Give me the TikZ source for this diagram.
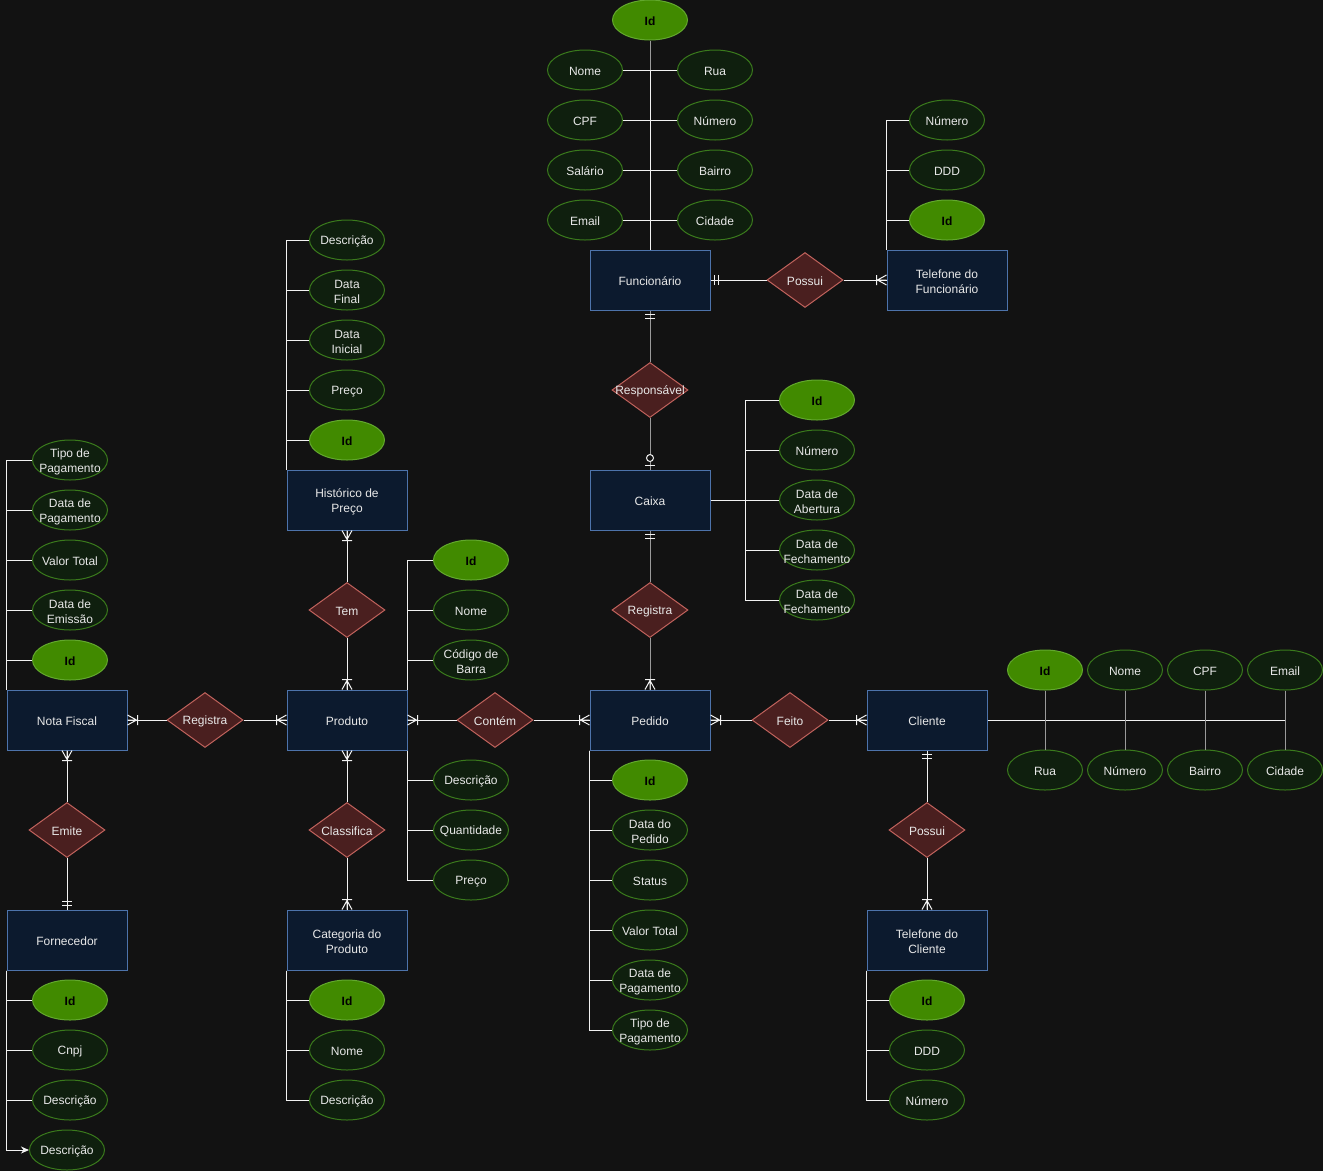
\documentclass[tikz,border=0pt]{standalone}
\usepackage{fontspec}
\setmainfont{Liberation Sans}
\usetikzlibrary{shapes.geometric,arrows.meta}
\definecolor{bg}{HTML}{121212}
\definecolor{entfill}{HTML}{0C1A2E}
\definecolor{entstroke}{HTML}{4D73AB}
\definecolor{attrfill}{HTML}{0F1F0E}
\definecolor{attrstroke}{HTML}{3A7A1C}
\definecolor{idfill}{HTML}{418A00}
\definecolor{idstroke}{HTML}{62A82D}
\definecolor{relfill}{HTML}{4A1F1F}
\definecolor{relstroke}{HTML}{C0625C}
\definecolor{txt}{HTML}{E8E8E8}
\definecolor{ln}{HTML}{F2F2F2}
\definecolor{lngray}{HTML}{9A9A9A}
\tikzset{
  fnt/.style={font=\fontsize{12}{15}\selectfont},
  lab/.style={fnt,text=txt,align=center,inner sep=0pt,yshift=-1.5pt},
  ent/.style={draw=entstroke,fill=entfill,line width=1pt,minimum width=120pt,minimum height=60pt,inner sep=0pt,label={[lab]center:#1}},
  attr/.style={ellipse,draw=attrstroke,fill=attrfill,line width=1pt,minimum width=75pt,minimum height=40pt,inner sep=0pt,label={[lab]center:#1}},
  idattr/.style={ellipse,draw=idstroke,fill=idfill,line width=1pt,minimum width=75pt,minimum height=40pt,inner sep=0pt,label={[lab,text=black,font=\bfseries\fontsize{12}{15}\selectfont]center:Id}},
  rel/.style={diamond,draw=relstroke,fill=relfill,line width=1pt,minimum width=76pt,minimum height=55pt,inner sep=0pt,label={[lab]center:#1}},
  lnw/.style={draw=ln,line width=1pt},
  lng/.style={draw=lngray,line width=1pt},
  mk/.style={draw=ln,line width=1pt},
  pics/mone/.style={code={\draw[mk] (4,-5)--(4,5) (8,-5)--(8,5);}},
  pics/omany/.style={code={\draw[mk] (0,-5)--(9,0) (0,0)--(9,0) (0,5)--(9,0) (10,-5)--(10,5);}},
  pics/zone/.style={code={\draw[mk] (4,-5)--(4,5); \draw[mk,fill=bg] (11.5,0) circle (3.5);}},
}
\begin{document}
\begin{tikzpicture}[x=1pt,y=-1pt]
\fill[bg] (0,0) rectangle (1323,1171);
\useasboundingbox (0,0) rectangle (1323,1171);

% ---------- Entities ----------
\node[ent=Funcionário] (func) at (650,280) {};
\node[ent={Telefone do\\Funcionário}] (telf) at (947,280) {};
\node[ent=Caixa] (caixa) at (650,500) {};
\node[ent=Pedido] (ped) at (650,720) {};
\node[ent=Cliente] (cli) at (927,720) {};
\node[ent={Telefone do\\Cliente}] (telc) at (927,940) {};
\node[ent=Produto] (prod) at (347,720) {};
\node[ent={Histórico de\\Preço}] (hist) at (347,500) {};
\node[ent={Categoria do\\Produto}] (cat) at (347,940) {};
\node[ent={Nota Fiscal}] (nf) at (67,720) {};
\node[ent=Fornecedor] (forn) at (67,940) {};

% ---------- Relationships ----------
\node[rel=Possui] (possf) at (805,280) {};
\node[rel=Responsável] (resp) at (650,390) {};
\node[rel=Registra] (regc) at (650,610) {};
\node[rel=Feito] (feito) at (790,720) {};
\node[rel=Possui] (possc) at (927,830) {};
\node[rel=Contém] (cont) at (495,720) {};
\node[rel=Tem] (tem) at (347,610) {};
\node[rel=Classifica] (clas) at (347,830) {};
\node[rel=Registra] (regn) at (205,720) {};
\node[rel=Emite] (emite) at (67,830) {};

% ---------- Attributes: Funcionário ----------
\node[idattr] (fid) at (650,20) {};
\node[attr=Nome] (fnome) at (585,70) {};
\node[attr=Rua] (frua) at (715,70) {};
\node[attr=CPF] (fcpf) at (585,120) {};
\node[attr=Número] (fnum) at (715,120) {};
\node[attr=Salário] (fsal) at (585,170) {};
\node[attr=Bairro] (fbai) at (715,170) {};
\node[attr=Email] (femail) at (585,220) {};
\node[attr=Cidade] (fcid) at (715,220) {};

% Telefone do Funcionário
\node[attr=Número] (tfnum) at (947,120) {};
\node[attr=DDD] (tfddd) at (947,170) {};
\node[idattr] (tfid) at (947,220) {};

% Caixa
\node[idattr] (cid) at (817,400) {};
\node[attr=Número] (cnum) at (817,450) {};
\node[attr={Data de\\Abertura}] (cab) at (817,500) {};
\node[attr={Data de\\Fechamento}] (cf1) at (817,550) {};
\node[attr={Data de\\Fechamento}] (cf2) at (817,600) {};
\coordinate (cxj) at (745,500);

% Pedido
\node[idattr] (pid) at (650,780) {};
\node[attr={Data do\\Pedido}] (pdata) at (650,830) {};
\node[attr=Status] (pstat) at (650,880) {};
\node[attr={Valor Total}] (pval) at (650,930) {};
\node[attr={Data de\\Pagamento}] (pdpag) at (650,980) {};
\node[attr={Tipo de\\Pagamento}] (ptpag) at (650,1030) {};

% Cliente
\node[idattr] (clid) at (1045,670) {};
\node[attr=Nome] (clnome) at (1125,670) {};
\node[attr=CPF] (clcpf) at (1205,670) {};
\node[attr=Email] (clemail) at (1285,670) {};
\node[attr=Rua] (clrua) at (1045,770) {};
\node[attr=Número] (clnum) at (1125,770) {};
\node[attr=Bairro] (clbai) at (1205,770) {};
\node[attr=Cidade] (clcid) at (1285,770) {};

% Telefone do Cliente
\node[idattr] (tcid) at (927,1000) {};
\node[attr=DDD] (tcddd) at (927,1050) {};
\node[attr=Número] (tcnum) at (927,1100) {};

% Produto
\node[idattr] (prid) at (471,560) {};
\node[attr=Nome] (prnome) at (471,610) {};
\node[attr={Código de\\Barra}] (prcod) at (471,660) {};
\node[attr=Descrição] (prdesc) at (471,780) {};
\node[attr=Quantidade] (prqtd) at (471,830) {};
\node[attr=Preço] (prpreco) at (471,880) {};

% Histórico de Preço
\node[attr=Descrição] (hdesc) at (347,240) {};
\node[attr={Data\\Final}] (hdf) at (347,290) {};
\node[attr={Data\\Inicial}] (hdi) at (347,340) {};
\node[attr=Preço] (hpreco) at (347,390) {};
\node[idattr] (hid) at (347,440) {};

% Categoria do Produto
\node[idattr] (catid) at (347,1000) {};
\node[attr=Nome] (catnome) at (347,1050) {};
\node[attr=Descrição] (catdesc) at (347,1100) {};

% Nota Fiscal
\node[attr={Tipo de\\Pagamento}] (nftp) at (70,460) {};
\node[attr={Data de\\Pagamento}] (nfdp) at (70,510) {};
\node[attr={Valor Total}] (nfvt) at (70,560) {};
\node[attr={Data de\\Emissão}] (nfde) at (70,610) {};
\node[idattr] (nfid) at (70,660) {};

% Fornecedor
\node[idattr] (foid) at (70,1000) {};
\node[attr=Cnpj] (focnpj) at (70,1050) {};
\node[attr=Descrição] (fodesc) at (70,1100) {};
\node[attr=Descrição] (fodesc2) at (67,1150) {};

% ---------- Attribute connectors ----------
\draw[lng] (fid.south) -- (fnome.east -| fid.south);
\draw[lnw] (fnome.east -| fid.south) -- (func.north);
\draw[lnw] (fnome.east) -- (frua.west);
\draw[lnw] (fcpf.east) -- (fnum.west);
\draw[lnw] (fsal.east) -- (fbai.west);
\draw[lnw] (femail.east) -- (fcid.west);

\foreach \n in {tfnum,tfddd,tfid} \draw[lnw] (telf.north west) |- (\n.west);

\draw[lnw] (caixa.east) -- (cxj);
\foreach \n in {cid,cnum,cab,cf1,cf2} \draw[lnw] (cxj) |- (\n.west);

\foreach \n in {pid,pdata,pstat,pval,pdpag,ptpag} \draw[lnw] (ped.south west) |- (\n.west);

\draw[lnw] (cli.east) -- (clemail.south |- cli.east);
\draw[lng] (clid.south) -- (clrua.north);
\draw[lng] (clnome.south) -- (clnum.north);
\draw[lng] (clcpf.south) -- (clbai.north);
\draw[lng] (clemail.south) -- (clcid.north);

\foreach \n in {tcid,tcddd,tcnum} \draw[lnw] (telc.south west) |- (\n.west);

\foreach \n in {prid,prnome,prcod} \draw[lnw] (prod.north east) |- (\n.west);
\foreach \n in {prdesc,prqtd,prpreco} \draw[lnw] (prod.south east) |- (\n.west);

\foreach \n in {hdesc,hdf,hdi,hpreco,hid} \draw[lnw] (hist.north west) |- (\n.west);

\foreach \n in {catid,catnome,catdesc} \draw[lnw] (cat.south west) |- (\n.west);

\foreach \n in {nftp,nfdp,nfvt,nfde,nfid} \draw[lnw] (nf.north west) |- (\n.west);

\foreach \n in {foid,focnpj,fodesc} \draw[lnw] (forn.south west) |- (\n.west);
\draw[lnw,-{Stealth[length=8pt,width=7pt,inset=2.5pt,fill=ln]}] (forn.south west) |- (fodesc2.west);

% ---------- Relationship connectors ----------
\draw[lnw] (func.east) -- (possf.west);
\draw[lnw] (possf.east) -- (telf.west);
\draw[lng] (func.south) -- (resp.north);
\draw[lng] (resp.south) -- (caixa.north);
\draw[lng] (caixa.south) -- (regc.north);
\draw[lng] (regc.south) -- (ped.north);
\draw[lnw] (ped.east) -- (feito.west);
\draw[lnw] (feito.east) -- (cli.west);
\draw[lnw] (cli.south) -- (possc.north);
\draw[lnw] (possc.south) -- (telc.north);
\draw[lnw] (prod.east) -- (cont.west);
\draw[lnw] (cont.east) -- (ped.west);
\draw[lnw] (hist.south) -- (tem.north);
\draw[lnw] (tem.south) -- (prod.north);
\draw[lnw] (prod.south) -- (clas.north);
\draw[lnw] (clas.south) -- (cat.north);
\draw[lnw] (nf.east) -- (regn.west);
\draw[lnw] (regn.east) -- (prod.west);
\draw[lnw] (nf.south) -- (emite.north);
\draw[lnw] (emite.south) -- (forn.north);

% ---------- Cardinality markers ----------
\pic at (func.east) {mone};
\pic[rotate=180] at (telf.west) {omany};
\pic[rotate=-90] at (func.south) {mone};
\pic[rotate=90] at (caixa.north) {zone};
\pic[rotate=-90] at (caixa.south) {mone};
\pic[rotate=90] at (ped.north) {omany};
\pic at (ped.east) {omany};
\pic[rotate=180] at (cli.west) {omany};
\pic[rotate=-90] at (cli.south) {mone};
\pic[rotate=90] at (telc.north) {omany};
\pic at (prod.east) {omany};
\pic[rotate=180] at (ped.west) {omany};
\pic[rotate=-90] at (hist.south) {omany};
\pic[rotate=90] at (prod.north) {omany};
\pic[rotate=-90] at (prod.south) {omany};
\pic[rotate=90] at (cat.north) {omany};
\pic at (nf.east) {omany};
\pic[rotate=180] at (prod.west) {omany};
\pic[rotate=-90] at (nf.south) {omany};
\pic[rotate=90] at (forn.north) {mone};
\end{tikzpicture}
\end{document}
